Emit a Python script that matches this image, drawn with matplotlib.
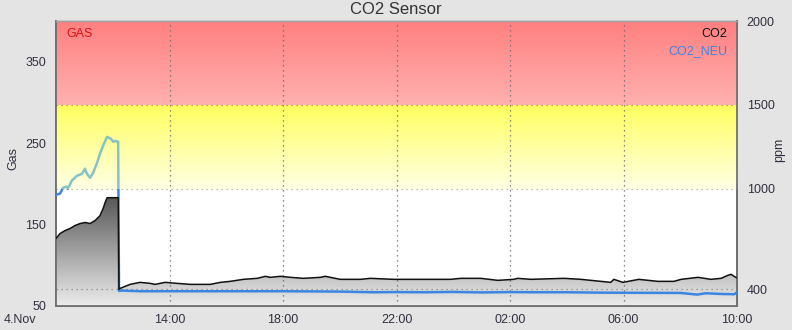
import matplotlib
matplotlib.use('Agg')
import matplotlib.pyplot as plt
import numpy as np
from matplotlib.patches import Rectangle

plt.rcParams['font.family'] = ['Liberation Sans', 'DejaVu Sans']

# hours since 4.Nov 10:00
co2_h = [0.0, 0.14, 0.32, 0.49, 0.67, 0.85, 1.02, 1.20, 1.38, 1.55, 1.66, 1.73, 1.80, 2.01, 2.19,
         2.22, 2.26, 2.61, 2.96, 3.32, 3.49, 3.85, 4.27, 4.73, 5.44, 5.79, 6.14, 6.60, 7.09, 7.38,
         7.55, 7.91, 8.26, 8.72, 9.32, 9.49, 10.02, 10.73, 11.08, 11.90, 12.85, 13.20, 13.91, 14.26,
         14.97, 15.57, 16.13, 16.27, 16.73, 17.90, 18.50, 19.55, 19.66, 19.98, 20.54, 21.21, 21.78,
         22.03, 22.63, 23.08, 23.44, 23.68, 23.79, 23.90, 23.97]
co2_ppm = [703, 732, 750, 762, 780, 792, 798, 792, 810, 839, 881, 917, 946, 946, 946,
           400, 405, 429, 441, 435, 429, 441, 435, 429, 429, 441, 447, 459, 465, 477,
           471, 477, 471, 465, 471, 477, 459, 459, 465, 459, 459, 459, 459, 465,
           465, 453, 459, 465, 459, 465, 459, 441, 459, 441, 459, 447, 447,
           459, 471, 459, 465, 483, 489, 477, 470]

co2_neu_h = [0.0, 0.14, 0.25, 0.39, 0.42, 0.56, 0.74, 0.92, 1.02, 1.09, 1.20, 1.31, 1.45, 1.55,
             1.69, 1.80, 1.94, 2.01, 2.08, 2.19, 2.22, 2.30, 3.0, 5.0, 8.0, 10.0, 11.2, 11.9,
             13.0, 14.0, 15.0, 16.0, 17.0, 18.0, 19.0, 20.0, 22.0, 22.6, 22.9, 23.4, 23.9, 23.97]
co2_neu_ppm = [964, 970, 1006, 1012, 1000, 1048, 1077, 1089, 1119, 1089, 1065, 1095, 1155, 1208,
               1268, 1309, 1297, 1280, 1285, 1280, 390, 392, 388, 388, 388, 386, 382, 383,
               382, 384, 381, 383, 382, 382, 380, 379, 378, 368, 376, 372, 370, 378]

xtick_pos = [4, 8, 12, 16, 20, 24]
xtick_labels = ['14:00', '18:00', '22:00', '02:00', '06:00', '10:00']
gas_ticks = [50, 150, 250, 350]
ppm_ticks = [400, 1000, 1500, 2000]

W, H = 792, 330
fig = plt.figure(figsize=(W / 100, H / 100), dpi=100, facecolor='#e4e4e4')
ax = fig.add_axes([56 / W, 24 / H, 681 / W, 285 / H])
ax2 = ax.twinx()
ax.set_facecolor('white')

lab_col = '#303040'


def band(lo, hi, c_top, c_bot):
    t = np.linspace(0, 1, 64)[:, None]
    c_top, c_bot = np.array(c_top) / 255, np.array(c_bot) / 255
    img = c_bot + (c_top - c_bot) * t
    ax2.imshow(img[:, None, :].repeat(2, axis=1), extent=(0, 24, lo, hi), origin='lower',
               aspect='auto', interpolation='bilinear', zorder=0)


band(1500, 2000, (255, 128, 128), (255, 176, 176))
band(1000, 1500, (255, 255, 96), (255, 255, 228))

# gradient area under CO2
poly = ax2.fill_between(co2_h, co2_ppm, 300, facecolor='none', edgecolor='none',
                        step=None)
top = max(co2_ppm)
t = np.linspace(0, 1, 128)[:, None]
g = (236 + (88 - 236) * t) / 255
grad = np.concatenate([g, g, g], axis=1)[:, None, :].repeat(2, axis=1)
gimg = ax2.imshow(grad, extent=(0, 24, 300, top), origin='lower', aspect='auto',
                  interpolation='bilinear', zorder=1)
gimg.set_clip_path(poly.get_paths()[0], transform=ax2.transData)

# grid
for p in xtick_pos:
    ax2.axvline(p, color='#666666', lw=0.9, ls=(0, (1, 3)), zorder=2)
ax2.axhline(1500, color='#c07070', lw=0.9, ls=(0, (1, 3)), zorder=2)
ax2.axhline(1000, color='#b0b070', lw=0.9, ls=(0, (1, 3)), zorder=2)
ax2.axhline(400, color='#888888', lw=0.9, ls=(0, (1, 3)), zorder=2)

# CO2_NEU line, blue below 1000, teal in the yellow zone
l1, = ax2.plot(co2_neu_h, co2_neu_ppm, color='#3c86e0', lw=1.8, zorder=3)
l2, = ax2.plot(co2_neu_h, co2_neu_ppm, color='#86c2c4', lw=1.8, zorder=3)
l1.set_clip_path(Rectangle((0, 300), 24, 700, transform=ax2.transData))
l2.set_clip_path(Rectangle((0, 1000), 24, 1000, transform=ax2.transData))

# CO2 line
ax2.plot(co2_h, co2_ppm, color='#111111', lw=1.1, zorder=4)

ax.set_xlim(0, 24)
ax.set_ylim(50, 400)
ax2.set_ylim(300, 2000)

ax.set_xticks(xtick_pos)
ax.set_xticklabels(xtick_labels)
ax.set_xticks(range(1, 24), minor=True)
ax.tick_params(axis='x', which='both', direction='in', top=True, bottom=True,
               color='#707070', labelsize=9, labelcolor=lab_col, pad=6)
ax.tick_params(axis='x', which='major', length=5)
ax.tick_params(axis='x', which='minor', length=3)
ax.set_yticks(gas_ticks)
ax.tick_params(axis='y', length=0, labelsize=9, labelcolor=lab_col, pad=7)
ax2.set_yticks(ppm_ticks)
ax2.tick_params(axis='y', length=0, labelsize=9, labelcolor=lab_col, pad=7)

for a in (ax, ax2):
    for s in ('left', 'bottom', 'right'):
        a.spines[s].set_color('#707070')
        a.spines[s].set_linewidth(1.3)
    a.spines['top'].set_color('#a0a0a0')
    a.spines['top'].set_linewidth(1.0)

fig.text(20 / W, 1 - 320 / H, '4.Nov', ha='center', va='center', fontsize=9, color=lab_col)
fig.text(396 / W, 1 - 10 / H, 'CO2 Sensor', ha='center', va='center', fontsize=12, color='#333333')
fig.text(13 / W, 1 - 158 / H, 'Gas', ha='center', va='center', rotation=90, fontsize=9, color=lab_col)
fig.text(779 / W, 1 - 150 / H, 'ppm', ha='center', va='center', rotation=90, fontsize=9, color=lab_col)

ax2.text(0.015, 0.955, 'GAS', transform=ax2.transAxes, ha='left', va='center', fontsize=9,
         color='#dd1111', zorder=5)
ax2.text(0.986, 0.955, 'CO2', transform=ax2.transAxes, ha='right', va='center', fontsize=9,
         color='#111111', zorder=5)
ax2.text(0.986, 0.895, 'CO2_NEU', transform=ax2.transAxes, ha='right', va='center', fontsize=9,
         color='#3c86e0', zorder=5)

fig.savefig('out.png', dpi=100, facecolor=fig.get_facecolor())
